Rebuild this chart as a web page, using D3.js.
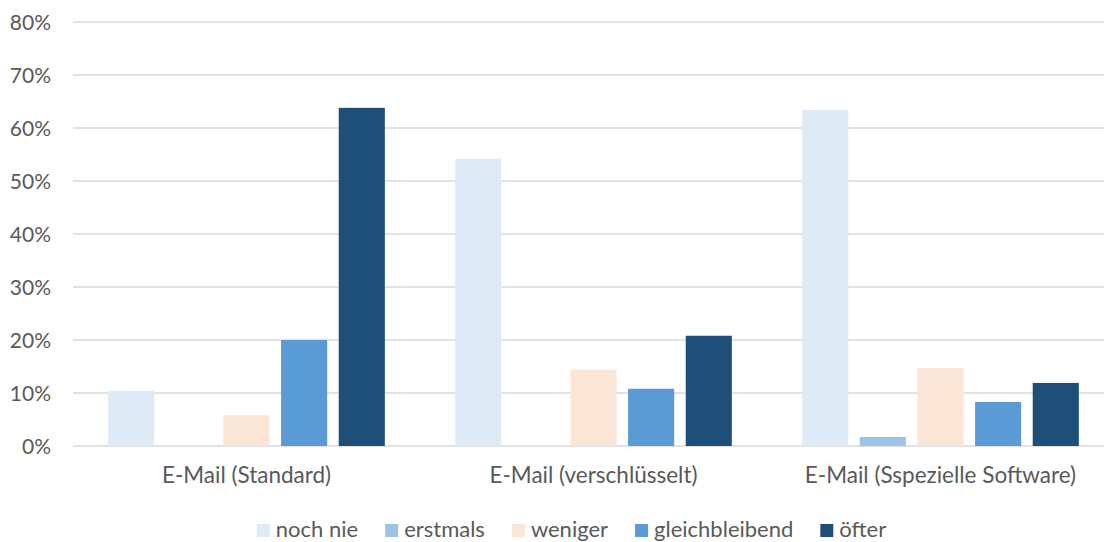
<!DOCTYPE html>
<html>
<head>
<meta charset="utf-8">
<script src="https://cdn.jsdelivr.net/npm/d3@7"></script>
<style>
  body { margin: 0; background: #fff; }
  svg { display: block; }
  text { font-family: Lato, "Open Sans", sans-serif; fill: #595959; }
</style>
</head>
<body>
<svg id="chart" width="1104" height="542"></svg>
<script>
// categories and series
const categories = ["E-Mail (Standard)", "E-Mail (verschlüsselt)", "E-Mail (Sspezielle Software)"];
const seriesNames = ["noch nie", "erstmals", "weniger", "gleichbleibend", "öfter"];
const seriesColors = ["#deebf7", "#9dc3e6", "#fbe5d6", "#5b9bd5", "#1f4e79"];

// values in percent, one array per series (same order as categories)
const nochNie = [10.4, 54.2, 63.4];
const erstmals = [0, 0, 1.7];
const weniger = [5.8, 14.4, 14.7];
const gleichbleibend = [20.0, 10.8, 8.3];
const oefter = [63.8, 20.8, 11.9];
const yTicks = [0, 10, 20, 30, 40, 50, 60, 70, 80];

const values = [nochNie, erstmals, weniger, gleichbleibend, oefter];

const svg = d3.select("#chart");
const margin = {top: 22, left: 73, bottom: 96};
const plotRight = 1114;
const height = +svg.attr("height");

const x0 = d3.scaleBand()
  .domain(categories)
  .range([margin.left, plotRight])
  .padding(0);

const x1 = d3.scaleBand()
  .domain(seriesNames)
  .range([0, x0.bandwidth()])
  .paddingInner(0.2)
  .paddingOuter(0.61);

const y = d3.scaleLinear()
  .domain([0, 80])
  .range([height - margin.bottom, margin.top]);

// gridlines
svg.append("g")
  .selectAll("line")
  .data(yTicks)
  .join("line")
  .attr("x1", margin.left)
  .attr("x2", plotRight)
  .attr("y1", d => y(d))
  .attr("y2", d => y(d))
  .attr("stroke", "#d9d9d9")
  .attr("stroke-width", 1.4);

// y axis labels
svg.append("g")
  .selectAll("text")
  .data(yTicks)
  .join("text")
  .attr("x", 51)
  .attr("y", d => y(d))
  .attr("dy", "0.36em")
  .attr("text-anchor", "end")
  .attr("font-size", 21)
  .text(d => d + "%");

// bars
const groups = svg.append("g")
  .selectAll("g")
  .data(categories)
  .join("g")
  .attr("transform", d => "translate(" + x0(d) + ",0)");

groups.selectAll("rect")
  .data((cat, ci) => seriesNames.map((s, si) => ({series: s, si: si, value: values[si][ci]})))
  .join("rect")
  .filter(d => d.value > 0)
  .attr("x", d => x1(d.series))
  .attr("width", x1.bandwidth())
  .attr("y", d => y(d.value))
  .attr("height", d => y(0) - y(d.value))
  .attr("fill", d => seriesColors[d.si]);

// category labels
svg.append("g")
  .selectAll("text")
  .data(categories)
  .join("text")
  .attr("x", d => x0(d) + x0.bandwidth() / 2)
  .attr("y", 483)
  .attr("text-anchor", "middle")
  .attr("font-size", 22.5)
  .text(d => d);

// legend
const legend = svg.append("g");
const items = legend.selectAll("g")
  .data(seriesNames)
  .join("g");

items.append("rect")
  .attr("width", 13)
  .attr("height", 13)
  .attr("y", 524)
  .attr("fill", (d, i) => seriesColors[i]);

items.append("text")
  .attr("x", 19)
  .attr("y", 537)
  .attr("font-size", 22)
  .text(d => d);

// place items one after another, then center the whole legend
let pos = 0;
items.each(function() {
  const g = d3.select(this);
  g.attr("transform", "translate(" + pos + ",0)");
  pos += 19 + g.select("text").node().getComputedTextLength() + 27;
});
const legendWidth = pos - 27;
legend.attr("transform", "translate(" + (571.5 - legendWidth / 2) + ",0)");
</script>
</body>
</html>
